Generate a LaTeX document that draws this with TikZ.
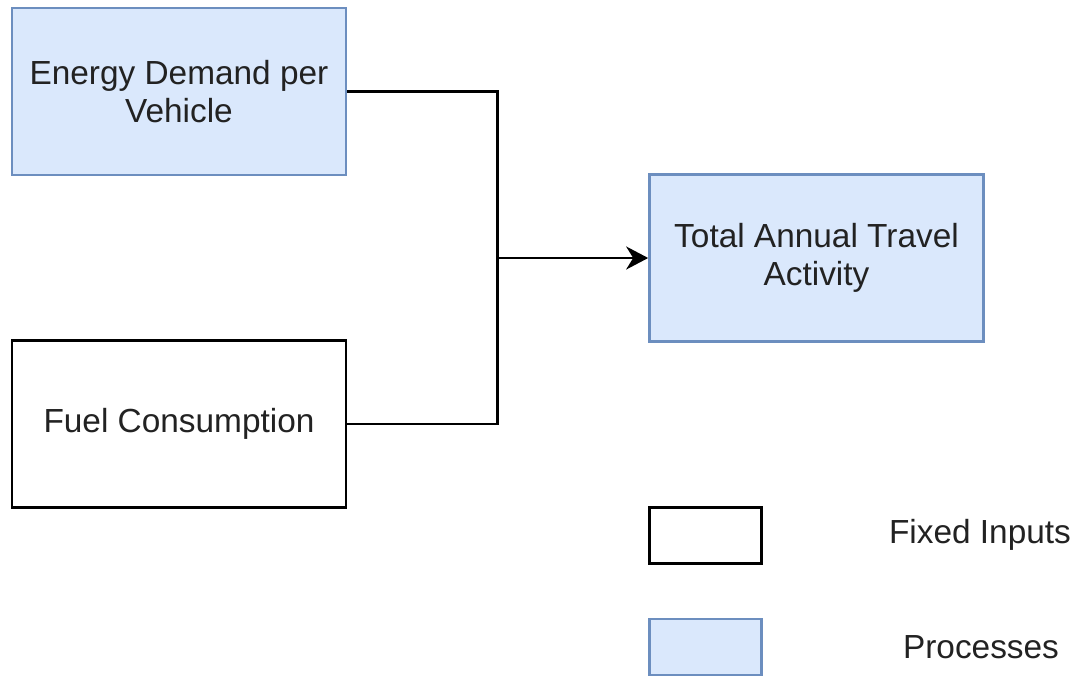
\documentclass[tikz,border=0pt]{standalone}
\usepackage{fontspec}
\setmainfont{Liberation Sans}
\usepackage{xcolor}
\usepackage{tikz}
\usetikzlibrary{arrows.meta,positioning}

\definecolor{procfill}{HTML}{DAE8FC}
\definecolor{procdraw}{HTML}{6C8EBF}
\definecolor{inktext}{HTML}{222222}

\begin{document}
\begin{tikzpicture}[
                font=\fontsize{19}{22}\selectfont,
                text=inktext,
                process/.style={draw=procdraw, line width=1.5pt, fill=procfill, align=center, minimum width=6.68cm, minimum height=3.34cm},
                fixed/.style={draw=black, line width=1.5pt, fill=white, align=center, minimum width=6.68cm, minimum height=3.34cm},
                keyproc/.style={process, minimum width=2.24cm, minimum height=1.12cm},
                keyfixed/.style={fixed, minimum width=2.24cm, minimum height=1.12cm},
                wire/.style={line width=1.5pt},
                bus/.style={-{Stealth[length=4.4mm, width=4.6mm, inset=1.4mm]}, line width=1.5pt}
            ]
            \useasboundingbox (0,0) rectangle (21.5,-13.5);
            \node[process] (energy) at (3.58,-1.83) {Energy Demand per\\Vehicle};
            \node[fixed, below=3.26cm of energy] (fuel) {Fuel Consumption};
            \node[process] (travel) at (16.33,-5.16) {Total Annual Travel\\Activity};
            \coordinate (joint) at (9.95,-5.16);
            \draw[wire] (energy.east) -| (joint);
            \draw[wire] (fuel.east) -| (joint);
            \draw[bus] (joint) -- (travel.west);
            % legend
            \node[keyfixed] (keyinput) at (14.11,-10.71) {};
            \node[keyproc, below=1.06cm of keyinput] (keyprocess) {};
            \node (lblinput) at (19.6,-10.7) {Fixed Inputs};
            \node (lblprocess) at (19.62,-12.94) {Processes};
        \end{tikzpicture}
\end{document}
